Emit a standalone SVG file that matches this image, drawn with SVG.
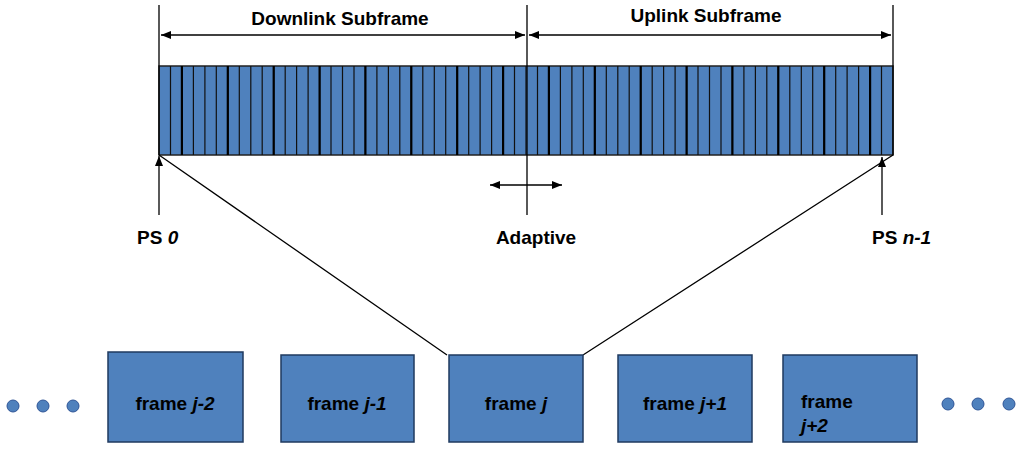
<svg xmlns="http://www.w3.org/2000/svg" width="1024" height="455" viewBox="0 0 1024 455">
<defs>
<marker id="a" markerWidth="10" markerHeight="8" refX="10" refY="4" orient="auto" markerUnits="userSpaceOnUse"><path d="M0,0 L10,4 L0,8 z" fill="#000"/></marker>
<style>
.l{stroke:#000;stroke-width:1.3;fill:none}
.f{fill:#4f81bd;stroke:#1f3a5f;stroke-width:1.5}
.t{font-family:"Liberation Sans",Arial,sans-serif;font-weight:bold;font-size:19px;fill:#000}
.d{fill:#4f81bd;stroke:#2f5597;stroke-width:1}
</style>
</defs>
<rect width="1024" height="455" fill="#fff"/>
<g id="bar">
<rect x="159" y="66" width="734" height="89" fill="#4f81bd" stroke="#222" stroke-width="1.5"/>
<path stroke="#111" stroke-width="1.2" d="M170.5,66v89M181.9,66v89M193.4,66v89M204.9,66v89M216.3,66v89M227.8,66v89M239.3,66v89M250.8,66v89M262.2,66v89M273.7,66v89M285.2,66v89M296.6,66v89M308.1,66v89M319.6,66v89M331,66v89M342.5,66v89M354,66v89M365.4,66v89M376.9,66v89M388.4,66v89M399.8,66v89M411.3,66v89M422.8,66v89M434.3,66v89M445.7,66v89M457.2,66v89M468.7,66v89M480.1,66v89M491.6,66v89M503.1,66v89M514.5,66v89M526,66v89M537.5,66v89M548.9,66v89M560.4,66v89M571.9,66v89M583.3,66v89M594.8,66v89M606.3,66v89M617.8,66v89M629.2,66v89M640.7,66v89M652.2,66v89M663.6,66v89M675.1,66v89M686.6,66v89M698,66v89M709.5,66v89M721,66v89M732.4,66v89M743.9,66v89M755.4,66v89M766.8,66v89M778.3,66v89M789.8,66v89M801.3,66v89M812.7,66v89M824.2,66v89M835.7,66v89M847.1,66v89M858.6,66v89M870.1,66v89M881.5,66v89"/>
<path stroke="#000" stroke-width="2.2" d="M181.9,66v89M227.8,66v89M273.7,66v89M319.6,66v89M365.4,66v89M411.3,66v89M457.2,66v89M503.1,66v89M548.9,66v89M594.8,66v89M640.7,66v89M686.6,66v89M732.4,66v89M778.3,66v89M824.2,66v89M870.1,66v89"/>
</g>
<g id="connectors">
<path class="l" d="M159,5V155M527,5V215M893,5V155"/>
<path class="l" d="M340,35H161" marker-end="url(#a)"/><path class="l" d="M340,35H525" marker-end="url(#a)"/>
<path class="l" d="M710,35H529" marker-end="url(#a)"/><path class="l" d="M710,35H891" marker-end="url(#a)"/>
<path class="l" d="M527,185H490" marker-end="url(#a)"/><path class="l" d="M527,185H562" marker-end="url(#a)"/>
<path class="l" d="M159,215V156" marker-end="url(#a)"/>
<path class="l" d="M882,215V157" marker-end="url(#a)"/>
<path class="l" d="M159,155L447,355M893,155L583,355"/>
</g>
<text class="t" x="340" y="25" text-anchor="middle">Downlink Subframe</text>
<text class="t" x="706" y="22" text-anchor="middle">Uplink Subframe</text>
<text class="t" x="137" y="244">PS <tspan font-style="italic">0</tspan></text>
<text class="t" x="536" y="244" text-anchor="middle">Adaptive</text>
<text class="t" x="872" y="244">PS <tspan font-style="italic">n-1</tspan></text>
<g id="f1"><rect class="f" x="108" y="352" width="135" height="90"/><text class="t" x="175" y="410" text-anchor="middle">frame <tspan font-style="italic">j-2</tspan></text></g>
<g id="f2"><rect class="f" x="281" y="355" width="133" height="87"/><text class="t" x="347" y="410" text-anchor="middle">frame <tspan font-style="italic">j-1</tspan></text></g>
<g id="f3"><rect class="f" x="449" y="355" width="134" height="87"/><text class="t" x="516" y="410" text-anchor="middle">frame <tspan font-style="italic">j</tspan></text></g>
<g id="f4"><rect class="f" x="618" y="355" width="134" height="87"/><text class="t" x="685" y="410" text-anchor="middle">frame <tspan font-style="italic">j+1</tspan></text></g>
<g id="f5"><rect class="f" x="783" y="355" width="134" height="87"/><text class="t" x="801" y="408">frame</text><text class="t" x="801" y="432" font-style="italic">j+2</text></g>
<g id="dots">
<circle class="d" cx="13" cy="406" r="6"/><circle class="d" cx="43" cy="406" r="6"/><circle class="d" cx="73" cy="406" r="6"/>
<circle class="d" cx="948" cy="404" r="6"/><circle class="d" cx="978" cy="404" r="6"/><circle class="d" cx="1009" cy="404" r="6"/>
</g>
</svg>
